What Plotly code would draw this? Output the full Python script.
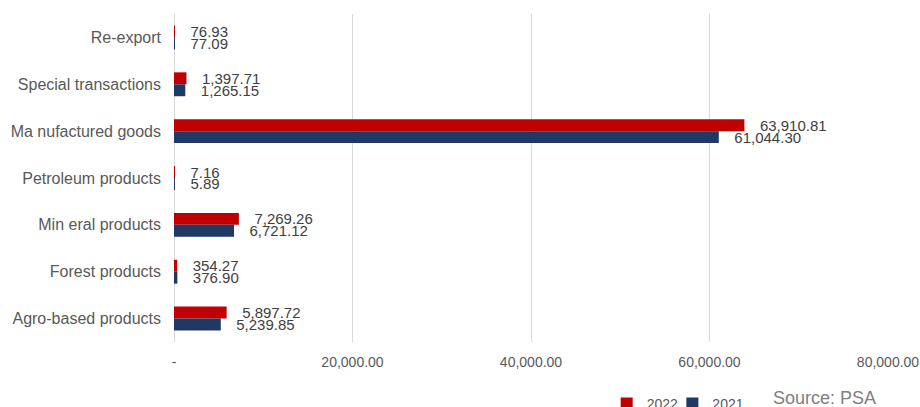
import plotly.graph_objects as go

categories = ["Re-export", "Special transactions", "Manufactured goods", "Petroleum products",
              "Mineral products", "Forest products", "Agro-based products"]
cat_labels = ["Re-export", "Special transactions", "Ma nufactured goods", "Petroleum products",
              "Min eral products", "Forest products", "Agro-based products"]
values_2022 = [76.93, 1397.71, 63910.81, 7.16, 7269.26, 354.27, 5897.72]
values_2021 = [77.09, 1265.15, 61044.30, 5.89, 6721.12, 376.90, 5239.85]
tick_vals = [0, 20000, 40000, 60000, 80000]
tick_text = ["-", "20,000.00", "40,000.00", "60,000.00", "80,000.00"]

FONT = "Liberation Sans, Arial, sans-serif"
pad = "\u00a0\u00a0\u00a0"

fig = go.Figure()
fig.add_trace(go.Bar(
    y=categories, x=values_2022, orientation="h", name="2022", legend="legend",
    marker=dict(color="#C00000", line=dict(width=0)),
    texttemplate=pad + "%{x:,.2f}", textposition="outside", constraintext="none",
    cliponaxis=False,
    textfont=dict(family=FONT, size=15, color="#404040"),
))
fig.add_trace(go.Bar(
    y=categories, x=values_2021, orientation="h", name="2021", legend="legend2",
    marker=dict(color="#1F3864", line=dict(width=0)),
    texttemplate=pad + "%{x:,.2f}", textposition="outside", constraintext="none",
    cliponaxis=False,
    textfont=dict(family=FONT, size=15, color="#404040"),
))

legend_style = dict(orientation="h", xanchor="left", y=-0.14, yanchor="top",
                    font=dict(family=FONT, size=14, color="#595959"),
                    itemwidth=30, bgcolor="rgba(0,0,0,0)")

fig.update_layout(
    width=920, height=407,
    margin=dict(l=174, r=32, t=14, b=65, autoexpand=False),
    paper_bgcolor="white", plot_bgcolor="white",
    barmode="group", bargap=0.49, bargroupgap=0,
    showlegend=True,
    legend=dict(x=0.606, **legend_style),
    legend2=dict(x=0.698, **legend_style),
    xaxis=dict(range=[0, 80000], tickvals=tick_vals, ticktext=tick_text,
               showgrid=True, gridcolor="#D9D9D9", gridwidth=1,
               zeroline=True, zerolinecolor="#D9D9D9", zerolinewidth=1,
               showline=False, ticks="", automargin=False, ticklabelstandoff=10,
               tickfont=dict(family=FONT, size=14, color="#595959")),
    yaxis=dict(categoryorder="array", categoryarray=categories, autorange="reversed",
               tickvals=categories, ticktext=cat_labels, automargin=False,
               showgrid=False, zeroline=False, showline=False, ticks="", ticklen=0,
               ticklabelstandoff=12,
               tickfont=dict(family=FONT, size=16, color="#595959")),
    annotations=[dict(text="Source: PSA", xref="paper", yref="paper",
                      x=0.986, xanchor="right", y=-0.135, yanchor="top", showarrow=False,
                      font=dict(family=FONT, size=18, color="#808080"))],
)

fig.write_html("out.html", config={"displayModeBar": False},
               post_script="document.body.style.margin='0';document.body.style.overflow='hidden';")
